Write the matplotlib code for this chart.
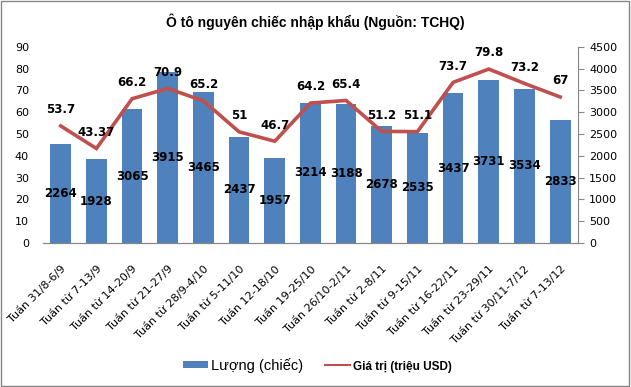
"""Imported completely-built cars per week: quantity bars and value line."""

import matplotlib

matplotlib.use("Agg")
import matplotlib.pyplot as plt
import numpy as np
from matplotlib.lines import Line2D
from matplotlib.patches import Patch, Rectangle

weeks = [
    "Tuần 31/8-6/9", "Tuần từ 7-13/9", "Tuần từ 14-20/9", "Tuần từ 21-27/9",
    "Tuần từ 28/9-4/10", "Tuần từ 5-11/10", "Tuần 12-18/10", "Tuần 19-25/10",
    "Tuần 26/10-2/11", "Tuần từ 2-8/11", "Tuần từ 9-15/11", "Tuần từ 16-22/11",
    "Tuần từ 23-29/11", "Tuần từ 30/11-7/12", "Tuần từ 7-13/12",
]
quantity = [2264, 1928, 3065, 3915, 3465, 2437, 1957, 3214, 3188, 2678, 2535, 3437, 3731, 3534, 2833]
value = [53.7, 43.37, 66.2, 70.9, 65.2, 51, 46.7, 64.2, 65.4, 51.2, 51.1, 73.7, 79.8, 73.2, 67]
value_labels = ["53.7", "43.37", "66.2", "70.9", "65.2", "51", "46.7", "64.2", "65.4",
                "51.2", "51.1", "73.7", "79.8", "73.2", "67"]

BAR_COLOR = "#4F81BD"
LINE_COLOR = "#C0504D"
plt.rcParams["font.family"] = ["DejaVu Sans"]

fig = plt.figure(figsize=(6.31, 3.87), dpi=100)
ax_val = fig.add_axes([0.068, 0.372, 0.848, 0.507])
ax_qty = ax_val.twinx()
ax_val.set_zorder(ax_qty.get_zorder() + 1)
ax_val.patch.set_visible(False)

x = np.arange(len(weeks))
ax_qty.bar(x, quantity, width=0.58, color=BAR_COLOR, zorder=2)
for xi, q in zip(x, quantity):
    ax_qty.text(xi, q / 2, str(q), ha="center", va="center",
                fontsize=8.5, fontweight="bold", color="black", zorder=5)

ax_val.plot(x, value, color=LINE_COLOR, linewidth=2.6, solid_joinstyle="miter", zorder=3)
for xi, v, lbl in zip(x, value, value_labels):
    ax_val.annotate(lbl, (xi, v), xytext=(0, 7), textcoords="offset points",
                    ha="center", va="bottom", fontsize=8.5, fontweight="bold")

ax_val.set_ylim(0, 90)
ax_val.set_yticks(range(0, 91, 10))
ax_qty.set_ylim(0, 4500)
ax_qty.set_yticks(range(0, 4501, 500))
ax_val.set_xlim(-0.5, len(weeks) - 0.5)

for ax in (ax_val, ax_qty):
    for side in ("top", "left", "right"):
        ax.spines[side].set_visible(False)
    ax.spines["bottom"].set_color("#868686")
ax_qty.spines["right"].set_visible(True)
ax_qty.spines["right"].set_color("#868686")

ax_val.tick_params(axis="y", length=0, labelsize=8, pad=10)
ax_qty.tick_params(axis="y", length=4, color="#868686", labelsize=8, pad=4)
ax_val.set_xticks(x)
ax_val.set_xticklabels(weeks, rotation=45, ha="right", rotation_mode="anchor", fontsize=8)
ax_val.tick_params(axis="x", length=0, pad=15)
ax_qty.tick_params(axis="x", length=0)

fig.text(0.5, 0.945, "Ô tô nguyên chiếc nhập khẩu (Nguồn: TCHQ)", ha="center", va="center",
         fontsize=10, fontweight="bold", family="Liberation Sans")

handles = [Patch(facecolor=BAR_COLOR, edgecolor="none"),
           Line2D([0], [0], color=LINE_COLOR, linewidth=1.5)]
leg = fig.legend(handles, ["Lượng (chiếc)", "Giá trị (triệu USD)"], loc="center",
                 bbox_to_anchor=(0.503, 0.056), ncol=2, frameon=False, handlelength=1.7,
                 handleheight=0.45, handletextpad=0.2, columnspacing=1.5,
                 prop={"family": "Liberation Sans", "size": 10.5})
leg.get_texts()[1].set_fontweight("bold")
leg.get_texts()[1].set_fontsize(8.5)

fig.patches.append(Rectangle((0.002, 0.003), 0.995, 0.994, transform=fig.transFigure,
                             fill=False, edgecolor="#868686", linewidth=1.0))

fig.savefig("out.png", dpi=100)
